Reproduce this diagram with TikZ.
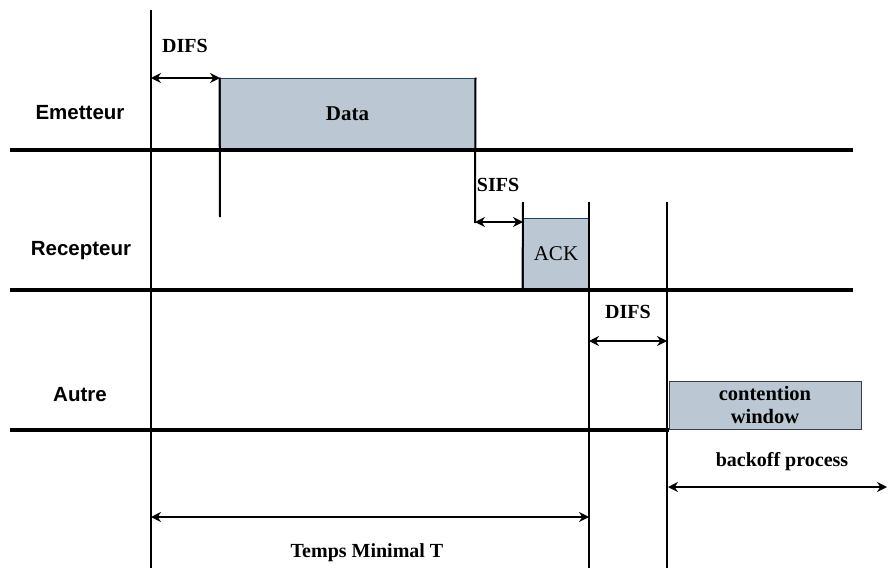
\documentclass[tikz,border=0pt]{standalone}
\usepackage{fontspec}
\setmainfont{Liberation Serif}
\setsansfont{Liberation Sans}
\usetikzlibrary{arrows.meta, positioning}

\definecolor{boxfill}{RGB}{187,200,212}
\definecolor{boxline}{RGB}{40,66,94}

\begin{document}
\begin{tikzpicture}[
      x=1pt, y=-1pt,
      lane/.style={line width=3.2pt},
      tick/.style={line width=2pt},
      span/.style={{Stealth[length=10pt,width=10pt]}-{Stealth[length=10pt,width=10pt]}, line width=1.5pt},
      frame/.style={draw=boxline, fill=boxfill, line width=1pt, inner sep=0pt, font=\fontsize{21}{24}\selectfont},
      role/.style={font=\sffamily\bfseries\fontsize{20.5}{24}\selectfont},
      lbl/.style={font=\bfseries\fontsize{20}{24}\selectfont}
    ]
    \useasboundingbox (0,0) rectangle (889,568);
    % stations
    \node[role] (em) at (80,113) {Emetteur};
    \node[role] (rc) at (81,251) {Recepteur};
    \node[role] (au) at (80,395) {Autre};
    % frames
    \node[frame, minimum width=255pt, minimum height=72pt, font=\bfseries\fontsize{21}{24}\selectfont] (data) at (347.5,114) {Data};
    \node[frame, minimum width=66pt, minimum height=72pt] (ack) at (556,254) {ACK};
    \node[frame, minimum width=192pt, minimum height=48pt, align=center, font=\bfseries\fontsize{20.5}{23}\selectfont] (cw) at (765,405) {contention\\window};
    % time lines
    \coordinate (l1a) at (10,150);  \coordinate (l1b) at (853,150);
    \coordinate (l2a) at (10,290);  \coordinate (l2b) at (853,290);
    \coordinate (l3a) at (10,430);  \coordinate (l3b) at (669,430);
    \draw[lane] (l1a) -- (l1b);
    \draw[lane] (l2a) -- (l2b);
    \draw[lane] (l3a) -- (l3b);
    % markers
    \coordinate (t0a) at (151,10);  \coordinate (t0b) at (151,568);
    \coordinate (t1b) at (220,217);
    \coordinate (t2b) at (475,223);
    \coordinate (t3a) at (523,202);
    \coordinate (t4a) at (589,202); \coordinate (t4b) at (589,568);
    \coordinate (t5a) at (667,202); \coordinate (t5b) at (667,568);
    \draw[tick] (t0a) -- (t0b);
    \draw[tick] (data.north west) -- (t1b);
    \draw[tick] (data.north east) -- (t2b);
    \draw[tick] (t3a) -- (ack.south west);
    \draw[tick] (t4a) -- (t4b);
    \draw[tick] (t5a) -- (t5b);
    % intervals
    \coordinate (d1a) at (151,78);  \coordinate (d1b) at (220,78);
    \coordinate (s1a) at (475,222); \coordinate (s1b) at (523,222);
    \coordinate (d2a) at (589,341); \coordinate (d2b) at (667,341);
    \coordinate (b1a) at (668,487); \coordinate (b1b) at (887,487);
    \coordinate (m1a) at (151,517); \coordinate (m1b) at (589,517);
    \draw[span] (d1a) -- (d1b);
    \draw[span] (s1a) -- (s1b);
    \draw[span] (d2a) -- (d2b);
    \draw[span] (b1a) -- (b1b);
    \draw[span] (m1a) -- (m1b);
    \node[lbl] (difs1) at (185,46) {DIFS};
    \node[lbl] (sifs) at (498,185) {SIFS};
    \node[lbl] (difs2) at (628,312) {DIFS};
    \node[lbl] (bo) at (782,462) {backoff process};
    \node[lbl] (tm) at (367,553) {Temps Minimal T};
    \end{tikzpicture}
\end{document}
